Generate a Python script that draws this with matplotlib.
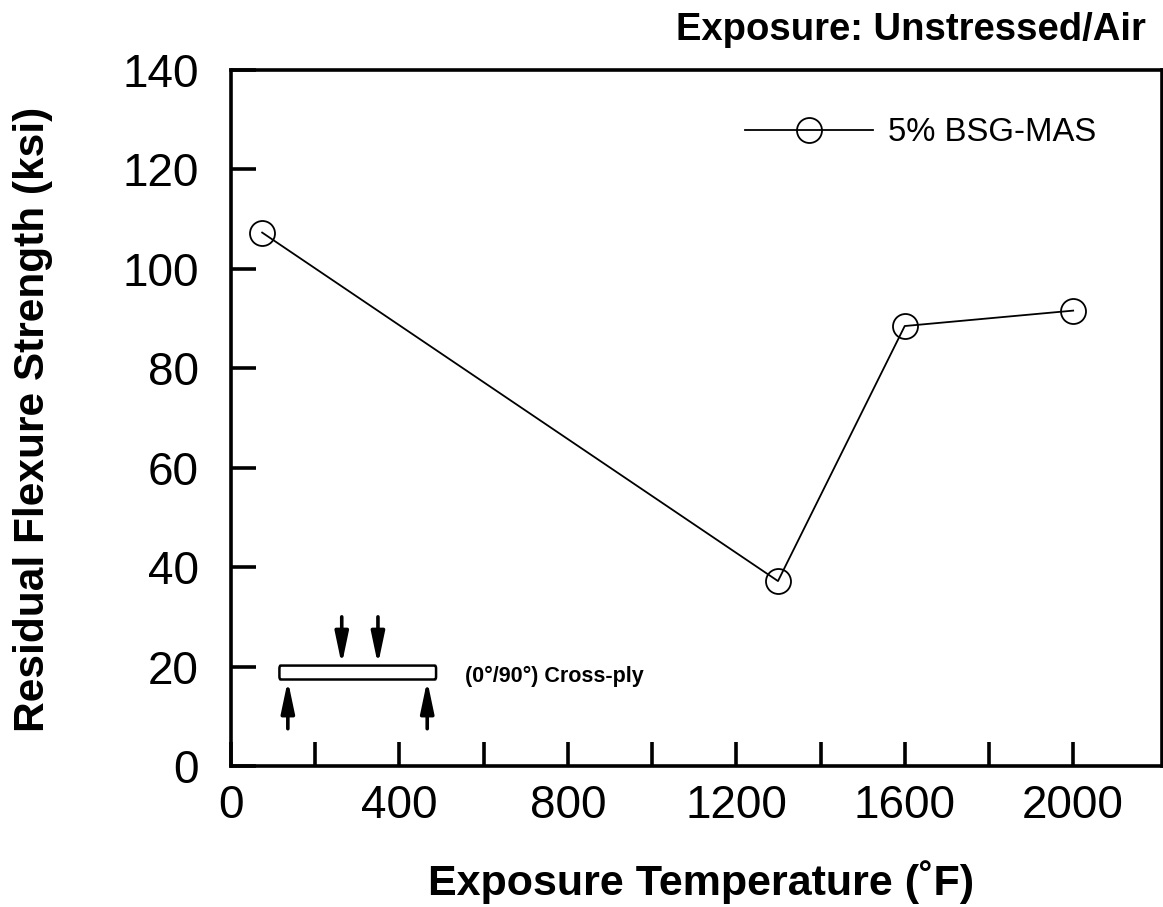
import matplotlib
matplotlib.use("Agg")
import matplotlib.pyplot as plt
from matplotlib.patches import FancyBboxPatch

# --- donnees ---
temperature_F = [74, 1299, 1600, 2000]
strength_ksi = [107.3, 37.2, 88.5, 91.6]
series_label = "5% BSG-MAS"
x_ticks = [0, 200, 400, 600, 800, 1000, 1200, 1400, 1600, 1800, 2000]
x_tick_labels = ["0", "", "400", "", "800", "", "1200", "", "1600", "", "2000"]
y_ticks = [0, 20, 40, 60, 80, 100, 120, 140]

plt.rcParams['font.family'] = ['Liberation Sans', 'DejaVu Sans']

W, H = 1163, 907
fig = plt.figure(figsize=(W / 100, H / 100), dpi=100)
ax = fig.add_axes([231 / W, 1 - 766 / H, (1162 - 231) / W, (766 - 70) / H])

ax.plot(temperature_F, strength_ksi, color='black', lw=1.3, marker='o', ms=18,
        mfc='none', mec='black', mew=1.3)

ax.set_xlim(0, 2211)
ax.set_ylim(0, 140)
ax.set_xticks(x_ticks)
ax.set_xticklabels(x_tick_labels)
ax.set_yticks(y_ticks)
ax.tick_params(axis='x', direction='in', length=17, width=2.6, labelsize=33, pad=13)
ax.tick_params(axis='y', direction='in', length=18, width=2.6, labelsize=33, pad=23)
for s in ax.spines.values():
    s.set_linewidth(2.6)

fig.text(701 / W, 1 - 882 / H, "Exposure Temperature (˚F)", ha='center', va='center',
         fontsize=31, fontweight='bold')
fig.text(33 / W, 1 - 419 / H, "Residual Flexure Strength (ksi)", ha='center', va='center',
         rotation=90, fontsize=30.5, fontweight='bold')
fig.text(1146 / W, 1 - 30 / H, "Exposure: Unstressed/Air", ha='right', va='center',
         fontsize=27.5, fontweight='bold')

# legende a la main
ax.plot([1220, 1525], [128, 128], color='black', lw=1.3, marker='none')
ax.plot([1372], [128], marker='o', ms=18, mfc='none', mec='black', mew=1.3)
ax.text(1560, 127.4, series_label, fontsize=23.7, va='center')

# schema flexion 4 points
ax.add_patch(FancyBboxPatch((115, 17.4), 372, 2.8, boxstyle="round,pad=0,rounding_size=3",
                            mutation_aspect=0.2, fc='white', ec='black', lw=1.8))
fleche = dict(arrowstyle='-|>,head_length=0.95,head_width=0.2', color='black', lw=2.6,
              mutation_scale=20, shrinkA=0, shrinkB=0)
for x0, y0, y1 in [(263, 30, 20.4), (349, 30, 20.4), (135, 7.5, 17.2), (466, 7.5, 17.2)]:
    ax.annotate("", xy=(x0, y1), xytext=(x0, y0), arrowprops=fleche)
ax.text(555, 18.1, "(0°/90°) Cross-ply", fontsize=15.5, fontweight='bold', va='center')

fig.savefig("out.png", dpi=100)
